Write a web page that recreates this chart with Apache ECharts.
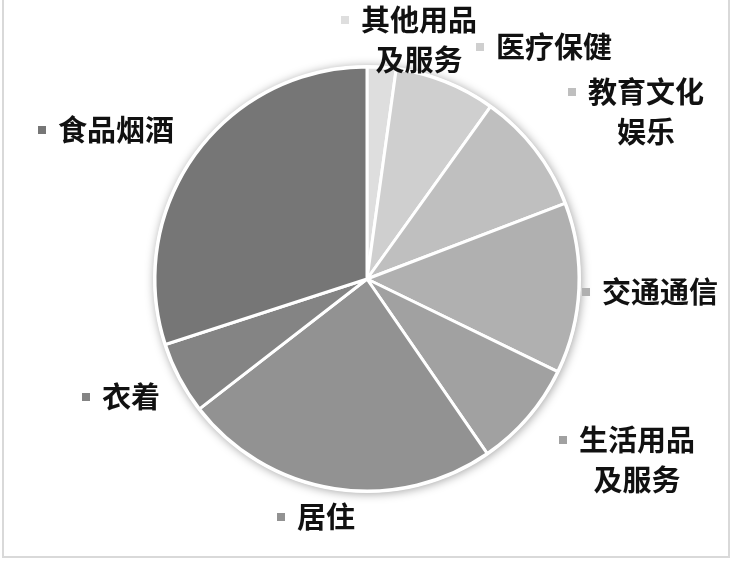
<!DOCTYPE html>
<html>
<head>
<meta charset="utf-8">
<script src="https://cdn.jsdelivr.net/npm/echarts@6/dist/echarts.min.js"></script>
<style>
  html, body { margin: 0; padding: 0; background: #fff; }
  #main { width: 733px; height: 561px; }
</style>
</head>
<body>
<div id="main"></div>
<script>
// consumption structure, clockwise from 12 o'clock
const categories = ['其他用品及服务', '医疗保健', '教育文化娱乐', '交通通信', '生活用品及服务', '居住', '衣着', '食品烟酒'];
const shares = [2.2, 7.7, 9.3, 13.0, 8.2, 24.1, 5.5, 30.0];
const colors = ['#dedede', '#cfcfcf', '#bfbfbf', '#b0b0b0', '#a1a1a1', '#929292', '#848484', '#767676'];

// where each label block sits (centre, px)
const labelSpots = [[409, 40], [544, 47], [636, 112], [650, 292], [627, 460], [316, 517], [121, 397], [106, 130]];

const CX = 367, CY = 279, R = 212;

const rich = {
  t: { fontSize: 29, fontWeight: 'bold', color: '#111', lineHeight: 40, align: 'center', padding: [0, 0, 0, 12],
       fontFamily: '"Noto Sans CJK SC", sans-serif' },
  g: { width: 8, height: 8, align: 'center' }
};
colors.forEach((c, i) => {
  rich['m' + i] = { width: 8, height: 8, backgroundColor: c, align: 'center' };
});

// wrap long names after 4 chars, like the original
const fmt = p => {
  const n = p.name;
  if (n.length <= 4) return `{m${p.dataIndex}|}{t|${n}}`;
  return `{m${p.dataIndex}|}{t|${n.slice(0, 4)}}\n{g|}{t|${n.slice(4)}}`;
};

const myChart = echarts.init(document.getElementById('main'));

const option = {
  animation: false,
  graphic: [{
    type: 'rect',
    shape: { x: 3, y: -4, width: 726, height: 561 },
    style: { fill: 'none', stroke: '#d9d9d9', lineWidth: 2 },
    silent: true
  }],
  series: [
    {
      // white disc behind the pie for the soft shadow
      type: 'pie',
      silent: true,
      center: [CX, CY],
      radius: R + 2,
      z: 1,
      label: { show: false },
      labelLine: { show: false },
      itemStyle: { color: '#fff', shadowBlur: 10, shadowColor: 'rgba(0,0,0,0.35)', shadowOffsetX: 1, shadowOffsetY: 1 },
      data: [1]
    },
    {
      type: 'pie',
      center: [CX, CY],
      radius: R,
      z: 2,
      startAngle: 90,
      clockwise: true,
      avoidLabelOverlap: false,
      itemStyle: { borderColor: '#fff', borderWidth: 3 },
      label: {
        show: true,
        position: 'outside',
        formatter: fmt,
        rich: rich
      },
      labelLine: { show: false },
      labelLayout: p => ({
        x: labelSpots[p.dataIndex][0],
        y: labelSpots[p.dataIndex][1],
        align: 'center',
        verticalAlign: 'middle'
      }),
      data: categories.map((name, i) => ({
        name: name,
        value: shares[i],
        itemStyle: { color: colors[i] }
      }))
    }
  ]
};

myChart.setOption(option);
</script>
</body>
</html>
